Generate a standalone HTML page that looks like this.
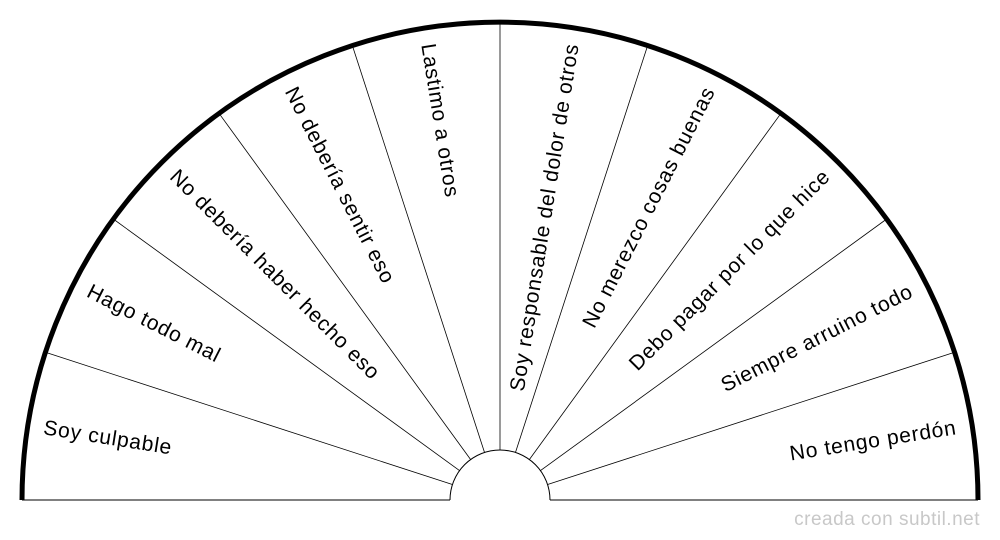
<!DOCTYPE html>
<html><head><meta charset="utf-8"><style>
html,body{margin:0;padding:0;background:#fff;}
svg{display:block;}
text{font-family:"Liberation Sans",sans-serif;}
</style></head><body>
<svg width="1000" height="540" viewBox="0 0 1000 540" xmlns="http://www.w3.org/2000/svg">
<g stroke="#000" fill="none">
<line x1="22" y1="500" x2="450" y2="500" stroke-width="1"/>
<line x1="550" y1="500" x2="978" y2="500" stroke-width="1"/>
<path d="M450 500 A50 50 0 0 1 550 500" stroke-width="1"/>
<line x1="452.4" y1="484.5" x2="45.4" y2="352.3" stroke-width="0.8"/>
<line x1="459.5" y1="470.6" x2="113.3" y2="219.0" stroke-width="0.8"/>
<line x1="470.6" y1="459.5" x2="219.0" y2="113.3" stroke-width="0.8"/>
<line x1="484.5" y1="452.4" x2="352.3" y2="45.4" stroke-width="0.8"/>
<line x1="500" y1="450" x2="500" y2="22" stroke-width="0.8"/>
<line x1="515.5" y1="452.4" x2="647.7" y2="45.4" stroke-width="0.8"/>
<line x1="529.4" y1="459.5" x2="781.0" y2="113.3" stroke-width="0.8"/>
<line x1="540.5" y1="470.6" x2="886.7" y2="219.0" stroke-width="0.8"/>
<line x1="547.6" y1="484.5" x2="954.6" y2="352.3" stroke-width="0.8"/>
<path d="M22 500 A478 478 0 0 1 978 500" stroke-width="5"/>
</g>
<g font-size="21" letter-spacing="0.8" fill="#000" dominant-baseline="central">
<text transform="translate(43.7,427.7) rotate(9)">Soy culpable</text>
<text transform="translate(88.4,290.3) rotate(27)">Hago todo mal</text>
<text transform="translate(173.3,173.3) rotate(45)">No debería haber hecho eso</text>
<text transform="translate(290.3,88.4) rotate(63)">No debería sentir eso</text>
<text transform="translate(427.7,43.7) rotate(81)">Lastimo a otros</text>
<text text-anchor="end" transform="translate(572.3,43.7) rotate(-81)">Soy responsable del dolor de otros</text>
<text text-anchor="end" transform="translate(709.7,88.4) rotate(-63)">No merezco cosas buenas</text>
<text text-anchor="end" transform="translate(826.7,173.3) rotate(-45)">Debo pagar por lo que hice</text>
<text text-anchor="end" transform="translate(911.6,290.3) rotate(-27)">Siempre arruino todo</text>
<text text-anchor="end" transform="translate(956.3,427.7) rotate(-9)">No tengo perdón</text>
</g>
<text x="980" y="525" font-size="19" letter-spacing="0.5" fill="#c8c8c8" text-anchor="end">creada con subtil.net</text>
</svg>
</body></html>
